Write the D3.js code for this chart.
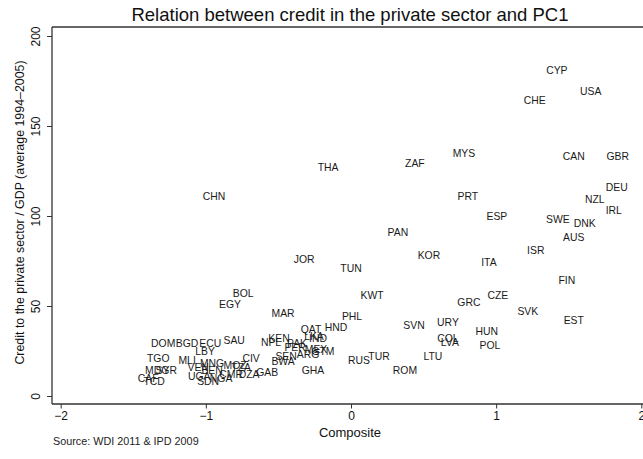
<!DOCTYPE html>
<html><head><meta charset="utf-8">
<script src="https://cdn.jsdelivr.net/npm/d3@7"></script>
<style>body{margin:0;background:#fff}svg{display:block}text{font-family:"Liberation Sans",Arial,sans-serif}</style>
</head><body>
<svg id="c" width="643" height="459"></svg>
<script>
const countries = ["CYP","USA","CHE","MYS","CAN","GBR","THA","ZAF","DEU","NZL","CHN","PRT","IRL","ESP","SWE","DNK","AUS","PAN","ISR","KOR","JOR","ITA","TUN","FIN","BOL","CZE","KWT","GRC","EGY","SVK","MAR","PHL","EST","URY","SVN","HND","QAT","HUN","IND","LKA","COL","KEN","SAU","NPL","LVA","PAK","DOM","BGD","ECU","POL","PER","MEX","GTM","LBY","ARG","SEN","TUR","LTU","TGO","MLI","RUS","CIV","BWA","MNG","MOZ","VEN","TZA","BEN","CMR","SYR","MDG","ROM","GHA","GAB","DZA","UGA","NGA","CAF","SDN","TCD"];
const composite = [1.418,1.652,1.266,0.778,1.535,1.838,-0.158,0.440,1.831,1.679,-0.943,0.805,1.810,1.005,1.425,1.610,1.535,0.323,1.273,0.537,-0.323,0.950,0.000,1.487,-0.743,1.012,0.145,0.812,-0.833,1.218,-0.468,0.007,1.535,0.668,0.434,-0.103,-0.275,0.936,-0.227,-0.255,0.668,-0.496,-0.805,-0.551,0.681,-0.372,-1.294,-1.129,-0.970,0.957,-0.385,-0.241,-0.193,-1.005,-0.296,-0.447,0.193,0.564,-1.328,-1.129,0.055,-0.688,-0.468,-0.957,-0.798,-1.053,-0.757,-0.957,-0.826,-1.273,-1.335,0.372,-0.262,-0.578,-0.702,-1.046,-0.895,-1.397,-0.984,-1.356];
const credit = [180.6,168.9,164.4,135.0,132.8,132.8,127.2,128.9,115.6,108.9,110.6,110.6,103.3,100.0,98.3,95.6,88.3,90.6,81.1,77.8,76.1,73.9,70.6,64.4,57.2,56.1,55.6,51.7,50.6,46.7,46.1,43.9,41.7,41.1,39.4,38.3,37.2,36.1,32.2,33.3,31.7,31.7,31.1,30.0,30.0,29.4,29.4,29.4,29.4,28.3,26.7,25.6,25.0,25.0,22.8,22.2,22.2,22.2,20.6,20.0,20.0,20.6,18.9,18.3,16.7,16.1,15.6,13.9,11.7,14.4,13.9,13.9,14.4,13.3,11.7,10.6,10.0,10.0,7.8,7.8];
const xTicks = [-2,-1,0,1,2];
const yTicks = [0,50,100,150,200];
const title = "Relation between credit in the private sector and PC1";
const xTitle = "Composite";
const yTitle = "Credit to the private sector / GDP (average 1994\u20132005)";
const note = "Source: WDI 2011 & IPD 2009";

const svg = d3.select("#c");
const x = d3.scaleLinear().domain([-2,2]).range([60.7,641.3]);
const y = d3.scaleLinear().domain([0,200]).range([396,36]);
const axisCol = "#333";
const pLeft = 52, pTop = 27, pBottom = 404, pRight = 660;

svg.append("line").attr("x1",pLeft).attr("x2",pRight).attr("y1",pTop).attr("y2",pTop).attr("stroke",axisCol).attr("stroke-width",1.3);

const gx = svg.append("g").attr("transform",`translate(0,${pBottom})`)
  .call(d3.axisBottom(x).tickValues(xTicks).tickSize(4.5).tickSizeOuter(0).tickPadding(3).tickFormat(d=>String(d).replace("-","\u2212")));
gx.select(".domain").attr("d",`M${pLeft},0H${pRight}`).attr("stroke",axisCol).attr("stroke-width",1.3);
gx.selectAll(".tick line").attr("stroke",axisCol).attr("stroke-width",1);
gx.selectAll(".tick text").attr("font-size",12).attr("fill","#111").attr("font-family","Liberation Sans, Arial, sans-serif");

const gy = svg.append("g").attr("transform",`translate(${pLeft},0)`)
  .call(d3.axisLeft(y).tickValues(yTicks).tickSize(5).tickSizeOuter(0).tickPadding(0));
gy.select(".domain").attr("d",`M0,${pTop}V${pBottom}`).attr("stroke",axisCol).attr("stroke-width",1.3);
gy.selectAll(".tick line").attr("stroke",axisCol).attr("stroke-width",1);
gy.selectAll(".tick text").attr("font-size",12).attr("fill","#111").attr("font-family","Liberation Sans, Arial, sans-serif")
  .attr("text-anchor","middle").attr("x",null).attr("dy",null)
  .attr("transform","translate(-12,0) rotate(-90)");

svg.append("g").selectAll("text").data(countries).join("text")
  .attr("x",(d,i)=>x(composite[i])).attr("y",(d,i)=>y(credit[i]))
  .attr("text-anchor","middle").attr("dominant-baseline","central")
  .attr("font-size",10.4).attr("fill","#1a1a1a").text(d=>d);

svg.append("text").attr("x",350).attr("y",20.5).attr("text-anchor","middle").attr("font-size",18.5).attr("fill","#111").text(title);
svg.append("text").attr("x",350).attr("y",436.5).attr("text-anchor","middle").attr("font-size",13).attr("fill","#111").text(xTitle);
svg.append("text").attr("transform","translate(23.5,212.5) rotate(-90)").attr("text-anchor","middle").attr("font-size",12.4).attr("fill","#111").text(yTitle);
svg.append("text").attr("x",53).attr("y",445).attr("font-size",10.8).attr("fill","#222").text(note);
</script>
</body></html>
